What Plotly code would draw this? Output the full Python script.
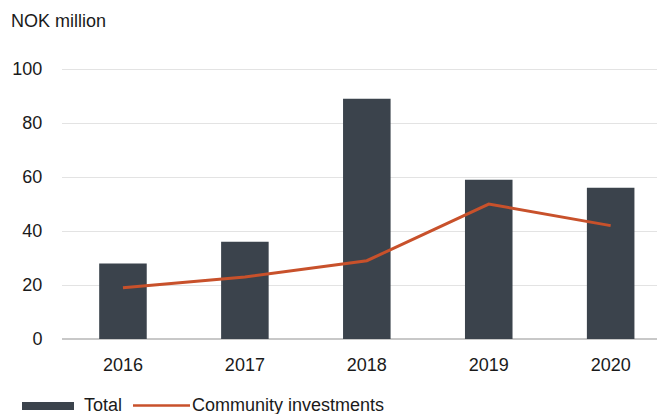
import plotly.graph_objects as go

# Chart data (NOK million)
years = ["2016", "2017", "2018", "2019", "2020"]
total = [28, 36, 89, 59, 56]
community_investments = [19, 23, 29, 50, 42]
y_ticks = [0, 20, 40, 60, 80, 100]

BAR_COLOR = "#3b434c"
LINE_COLOR = "#c8512b"
TEXT_COLOR = "#1a1a1a"
FONT = "Liberation Sans, Arial, sans-serif"
FONT_SIZE = 18

fig = go.Figure()
fig.add_trace(go.Bar(
    x=list(range(len(years))), y=total, name="Total",
    marker=dict(color=BAR_COLOR, line=dict(width=0)),
    width=0.39, showlegend=False,
))
fig.add_trace(go.Scatter(
    x=list(range(len(years))), y=community_investments, name="Community investments",
    mode="lines", line=dict(color=LINE_COLOR, width=3),
    showlegend=False,
))

fig.update_layout(
    width=664, height=414,
    margin=dict(l=62, r=7, t=68, b=75),
    paper_bgcolor="white", plot_bgcolor="white",
    font=dict(family=FONT, size=FONT_SIZE, color=TEXT_COLOR),
    xaxis=dict(
        range=[-0.5, 4.38],
        tickmode="array", tickvals=list(range(len(years))), ticktext=years,
        showgrid=False, zeroline=False, showline=False,
        ticks="outside", ticklen=9, tickcolor="rgba(0,0,0,0)",
        tickfont=dict(size=FONT_SIZE, color=TEXT_COLOR),
    ),
    yaxis=dict(
        range=[0, 100.4],
        tickmode="array", tickvals=y_ticks,
        showgrid=True, gridcolor="#e3e3e3", gridwidth=1,
        zeroline=True, zerolinecolor="#c8c8c8", zerolinewidth=1.5,
        showline=False,
        ticks="outside", ticklen=15, tickcolor="rgba(0,0,0,0)",
        tickfont=dict(size=FONT_SIZE, color=TEXT_COLOR),
    ),
    annotations=[
        dict(text="NOK million", xref="paper", yref="paper",
             x=-62 / 595, y=1, yshift=47, xshift=9,
             xanchor="left", yanchor="middle", showarrow=False,
             font=dict(size=FONT_SIZE, color=TEXT_COLOR)),
        # legend labels
        dict(text="Total", xref="paper", yref="paper",
             x=(82 - 62) / 595, y=0, yshift=-66,
             xanchor="left", yanchor="middle", showarrow=False,
             font=dict(size=FONT_SIZE, color=TEXT_COLOR)),
        dict(text="Community investments", xref="paper", yref="paper",
             x=(190 - 62) / 595, y=0, yshift=-66,
             xanchor="left", yanchor="middle", showarrow=False,
             font=dict(size=FONT_SIZE, color=TEXT_COLOR)),
    ],
    shapes=[
        # legend keys
        dict(type="rect", xref="paper", yref="paper",
             x0=(22 - 62) / 595, x1=(74 - 62) / 595,
             y0=-(402 - 339) / 271, y1=-(410 - 339) / 271,
             fillcolor=BAR_COLOR, line=dict(width=0)),
        dict(type="line", xref="paper", yref="paper",
             x0=(133 - 62) / 595, x1=(190 - 62) / 595,
             y0=-(405.5 - 339) / 271, y1=-(405.5 - 339) / 271,
             line=dict(color=LINE_COLOR, width=2.5)),
    ],
)

fig.write_html("out.html")
